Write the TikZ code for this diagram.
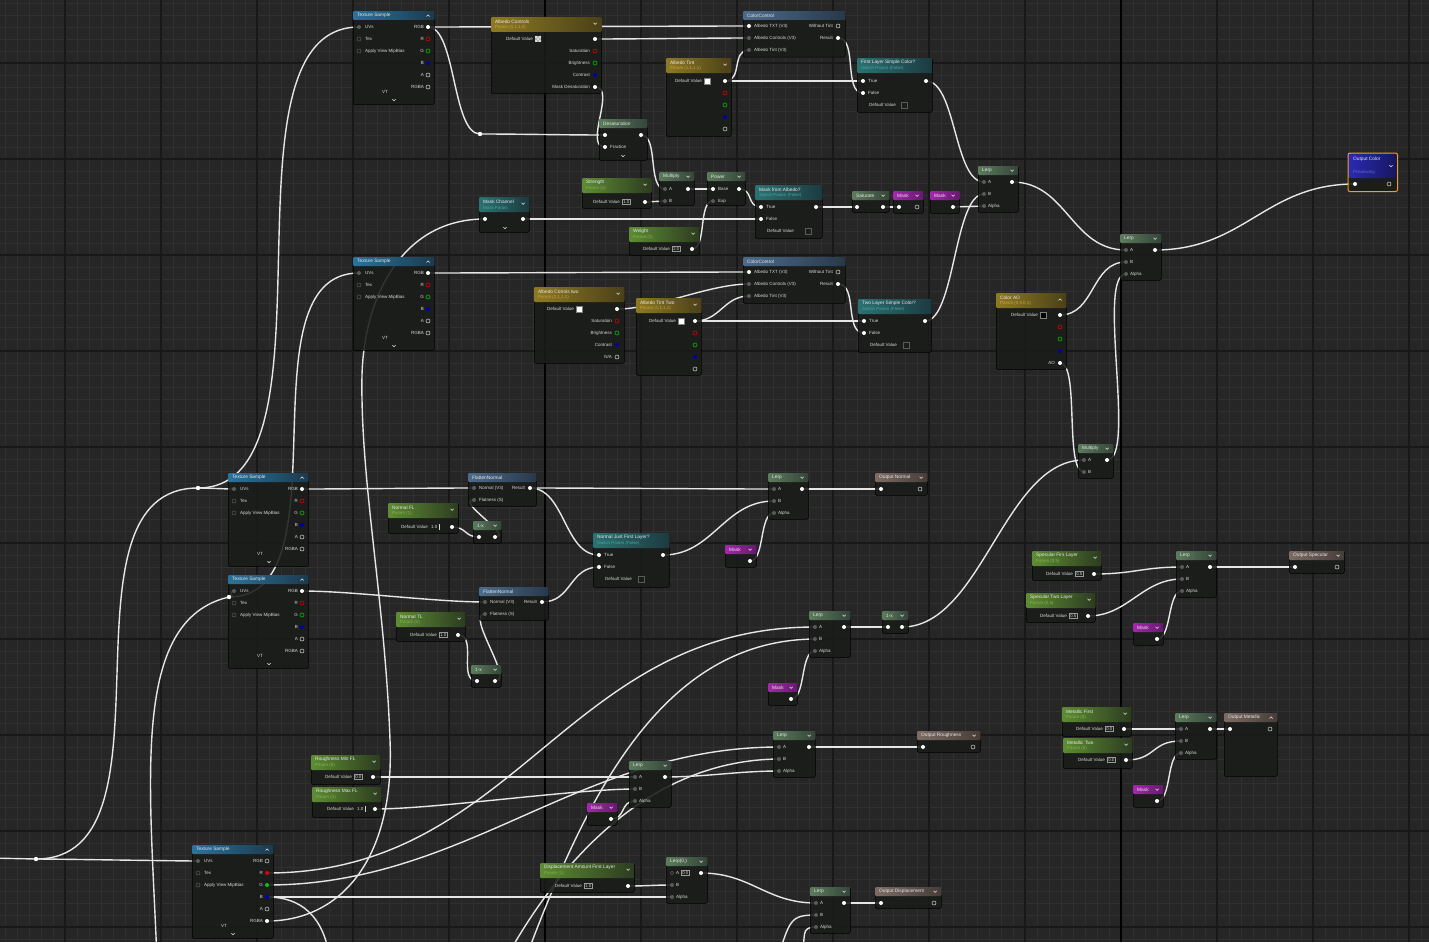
\documentclass[tikz,border=0pt]{standalone}
\usepackage{fontspec}
\setmainfont{Liberation Sans}
\usetikzlibrary{calc}
\pgfdeclarelayer{bg}\pgfdeclarelayer{wires}
\pgfsetlayers{bg,wires,main}
\definecolor{bgc}{HTML}{262626}
\definecolor{minorc}{HTML}{303030}
\definecolor{majorc}{HTML}{181818}
\definecolor{bodyc}{HTML}{1A1C1A}
\definecolor{wirec}{HTML}{E6E6E6}
\definecolor{labc}{HTML}{D8D8D8}
\definecolor{ttlc}{HTML}{E8E8E8}
\definecolor{pgc}{HTML}{5A5A5A}
\definecolor{svec}{HTML}{C8A83A}
\definecolor{ssc}{HTML}{86B848}
\definecolor{ssw}{HTML}{4AA8A0}
\definecolor{orangec}{HTML}{F0A020}
\definecolor{texL}{HTML}{2C729A}\definecolor{texR}{HTML}{1C3A4E}
\definecolor{vecL}{HTML}{8E7A24}\definecolor{vecR}{HTML}{4A4018}
\definecolor{scL}{HTML}{5E8C34}\definecolor{scR}{HTML}{2C3C20}
\definecolor{swL}{HTML}{2C7272}\definecolor{swR}{HTML}{1C3A40}
\definecolor{mthL}{HTML}{5C7C5C}\definecolor{mthR}{HTML}{34443A}
\definecolor{mkL}{HTML}{A626AE}\definecolor{mkR}{HTML}{641A6C}
\definecolor{outL}{HTML}{7C6C64}\definecolor{outR}{HTML}{463C38}
\definecolor{fnL}{HTML}{4C6C8C}\definecolor{fnR}{HTML}{28384A}
\definecolor{ocL}{HTML}{2A2AB4}\definecolor{ocR}{HTML}{16165C}
\tikzset{
 wire/.style={draw=wirec, line width=1.4pt},
 body/.style={fill=bodyc, fill opacity=0.88, draw=black, line width=0.5pt, rounded corners=1.2pt, inner sep=0pt, anchor=north west},
 ttl/.style={font=\fontsize{4.8}{5}\selectfont, text=ttlc, inner sep=0pt, anchor=west},
 sub/.style={font=\fontsize{4.4}{5}\selectfont, inner sep=0pt, anchor=west},
 lab/.style={font=\fontsize{4.5}{5}\selectfont, text=labc, inner sep=0pt},
 valb/.style={font=\fontsize{4.2}{5}\selectfont, text=labc, draw=gray!80, line width=0.4pt, inner xsep=1.2pt, inner ysep=0.9pt, anchor=west},
 chv/.style={draw=ttlc, line width=0.5pt},
 htex/.style={left color=texL, right color=texR},
 hvec/.style={left color=vecL, right color=vecR},
 hsc/.style={left color=scL, right color=scR},
 hsw/.style={left color=swL, right color=swR},
 hmth/.style={left color=mthL, right color=mthR},
 hmk/.style={left color=mkL, right color=mkR},
 hout/.style={left color=outL, right color=outR},
 hfn/.style={left color=fnL, right color=fnR},
 hoc/.style={left color=ocL, right color=ocR},
 pw/.style={fill=white},
 pg/.style={fill=pgc},
 po/.style={draw=white!85!black, line width=0.5pt},
 pr/.style={draw=red!85!black, line width=0.6pt},
 pgn/.style={draw=green!75!black, line width=0.6pt},
 pb/.style={fill=blue!65!black},
 prf/.style={fill=red!90!black},
 pgf/.style={fill=green!80!black},
 pgo/.style={draw=pgc, line width=0.5pt},
}
\newcommand\chvd[2]{\draw[chv] ([xshift=-8pt,yshift=-#2pt]#1.north east) -- ++(1.6,1.6) -- ++(1.6,-1.6);}
\newcommand\chvu[2]{\draw[chv] ([xshift=-8pt,yshift=-#2pt]#1.north east) ++(0,1.6) -- ++(1.6,-1.6) -- ++(1.6,1.6);}
\newcommand\nochv[2]{}
\newcommand\chvat[2]{\draw[chv] (#1-1.6,#2-0.8) -- ++(1.6,1.6) -- ++(1.6,-1.6);}
\newcommand\nA[8][\chvd]{%
 \node[body, minimum width=#5pt, minimum height=#6pt] (#2) at (#3,#4) {};
 \shade[h#7, rounded corners=1pt] (#2.north west) rectangle ([yshift=-9pt]#2.north east);
 \node[ttl] at ([xshift=4pt,yshift=-4.6pt]#2.north west) {#8};
 #1{#2}{3.8}}
\newcommand\nB[9][\chvd]{%
 \node[body, minimum width=#5pt, minimum height=#6pt] (#2) at (#3,#4) {};
 \shade[h#7, rounded corners=1pt] (#2.north west) rectangle ([yshift=-15pt]#2.north east);
 \node[ttl] at ([xshift=4pt,yshift=-4.4pt]#2.north west) {#8};
 \node[sub, text=s#7] at ([xshift=4pt,yshift=-10.8pt]#2.north west) {#9};
 #1{#2}{5.8}}
\newcommand\pin[4][pw]{\coordinate (#2) at (#3,#4); \path[#1] (#2) circle (2pt);}
\newcommand\lab[3]{\node[lab, anchor=west] at (#1,#2) {#3};}
\newcommand\rlab[3]{\node[lab, anchor=east] at (#1,#2) {#3};}
\newcommand\valbox[3]{\node[valb] at (#1,#2) {#3};}
\newcommand\swatch[3]{\fill[#3, draw=gray, line width=0.3pt] (#1,#2-3) rectangle (#1+6,#2+3);}
\newcommand\dvbox[2]{\draw[pgc, line width=0.4pt] (#1,#2-3) rectangle (#1+6,#2+3);}
\newcommand\checker[2]{\fill[gray!60] (#1,#2-3) rectangle (#1+6,#2+3);
 \fill[white!85!black] (#1,#2-3) rectangle (#1+2,#2-1) (#1+4,#2-3) rectangle (#1+6,#2-1) (#1+2,#2-1) rectangle (#1+4,#2+1) (#1,#2+1) rectangle (#1+2,#2+3) (#1+4,#2+1) rectangle (#1+6,#2+3);}
\newcommand\reroute[3]{\coordinate (#1) at (#2,#3); \fill[white] (#1) circle (2.2pt);}
% texture sample: name x y w variant
\newcommand\tex[5]{%
 \nA[\chvu]{#1}{#2}{#3}{#4}{93}{tex}{Texture Sample}
 \pin[pg]{#1-uv}{#2+6}{#3+16} \lab{#2+12}{#3+16}{UVs}
 \pin[pgo]{#1-tex}{#2+6}{#3+28} \lab{#2+12}{#3+28}{Tex}
 \pin[pgo]{#1-mip}{#2+6}{#3+40} \lab{#2+12}{#3+40}{Apply View MipBias}
 \rlab{#2+#4-10}{#3+16}{RGB} \rlab{#2+#4-10}{#3+28}{R} \rlab{#2+#4-10}{#3+40}{G}
 \rlab{#2+#4-10}{#3+52}{B} \rlab{#2+#4-10}{#3+64}{A} \rlab{#2+#4-10}{#3+76}{RGBA}
 \ifnum#5=1
 \pin{#1-rgb}{#2+#4-6}{#3+16} \pin[pr]{#1-r}{#2+#4-6}{#3+28} \pin[pgn]{#1-g}{#2+#4-6}{#3+40}
 \pin[pb]{#1-b}{#2+#4-6}{#3+52} \pin[po]{#1-a}{#2+#4-6}{#3+64} \pin[po]{#1-rgba}{#2+#4-6}{#3+76}
 \else
 \pin[po]{#1-rgb}{#2+#4-6}{#3+16} \pin[prf]{#1-r}{#2+#4-6}{#3+28} \pin[pgf]{#1-g}{#2+#4-6}{#3+40}
 \pin[pb]{#1-b}{#2+#4-6}{#3+52} \pin[po]{#1-a}{#2+#4-6}{#3+64} \pin{#1-rgba}{#2+#4-6}{#3+76}
 \fi
 \node[lab] at (#2+32,#3+81) {VT};
 \chvat{#2+41}{#3+89}}
\newcommand\lerp[5][Lerp]{%
 \nA{#2}{#3}{#4}{#5}{46}{mth}{#1}
 \pin[pg]{#2-a}{#3+6}{#4+16} \lab{#3+10}{#4+16}{A}
 \pin[pg]{#2-b}{#3+6}{#4+28} \lab{#3+10}{#4+28}{B}
 \pin[pg]{#2-al}{#3+6}{#4+40} \lab{#3+10}{#4+40}{Alpha}
 \pin{#2-out}{#3+#5-6}{#4+16}}
\newcommand\mask[4]{\nA{#1}{#2}{#3}{#4}{22}{mk}{Mask}}
\newcommand\omx[4]{\nA{#1}{#2}{#3}{#4}{22}{mth}{1-x}
 \pin{#1-in}{#2+6}{#3+16} \pin{#1-out}{#2+#4-6}{#3+16}}
\newcommand\outn[7][\chvd]{\nA[#1]{#2}{#3}{#4}{#5}{#6}{out}{#7}
 \pin{#2-in}{#3+6}{#4+16} \pin[po]{#2-o}{#3+#5-7}{#4+16}}
\begin{document}
\begin{tikzpicture}[x=1pt,y=-1pt]
\useasboundingbox (0,0) rectangle (1429,942);
\begin{pgfonlayer}{bg}
\fill[bgc] (0,0) rectangle (1429,942);
\foreach \i in {0,...,119} {\draw[minorc, line width=0.9pt] (5+12*\i,0) -- ++(0,942);}
\foreach \i in {0,...,78} {\draw[minorc, line width=0.9pt] (0,3+12*\i) -- ++(1429,0);}
\foreach \i in {0,...,14} {\draw[majorc, line width=1.3pt] (65+96*\i,0) -- ++(0,942);}
\foreach \i in {0,...,9} {\draw[majorc, line width=1.3pt] (0,63+96*\i) -- ++(1429,0);}
\draw[black, line width=1.8pt] (545,0) -- ++(0,942) (1121,0) -- ++(0,942);
\end{pgfonlayer}

% ---------------- top albedo ----------------
\tex{ts1}{353}{11}{81}{1}
\nB{ac}{491}{17}{110}{76}{vec}{Albedo Controls}{Param (1,1,1,0)}
\rlab{533}{39}{Default Value} \checker{535}{39} \pin{ac-out}{595}{39}
\rlab{590}{51}{Saturation} \pin[pr]{ac-sat}{595}{51}
\rlab{590}{63}{Brightness} \pin[pgn]{ac-bri}{595}{63}
\rlab{590}{75}{Contrast} \pin[pb]{ac-con}{595}{75}
\rlab{590}{87}{Mask Desaturation} \pin{ac-md}{595}{87}

\nA[\nochv]{desat}{599}{119}{48}{41}{mth}{Desaturation}
\pin{desat-in}{605}{135} \pin{desat-fr}{605}{147} \lab{610}{147}{Fraction} \pin{desat-out}{641}{135}
\chvat{623}{156}

\nA[\nochv]{cc1}{743}{11}{102}{46}{fn}{ColorControl}
\pin{cc1-txt}{749}{26} \lab{754}{26}{Albedo TXT (V3)}
\pin[pg]{cc1-ctl}{749}{38} \lab{754}{38}{Albedo Controls (V3)}
\pin[pg]{cc1-tint}{749}{50} \lab{754}{50}{Albedo Tint (V3)}
\rlab{833}{26}{Without Tint} \pin[po]{cc1-wt}{838}{26}
\rlab{833}{38}{Result} \pin{cc1-res}{838}{38}

\nB{at}{666}{58}{65}{78}{vec}{Albedo Tint}{Param (1,1,1,1)}
\rlab{702}{81}{Default Value} \swatch{704}{81}{white} \pin{at-out}{725}{81}
\pin[pr]{at-r}{725}{93} \pin[pgn]{at-g}{725}{105} \pin[pb]{at-b}{725}{117} \pin[po]{at-a}{725}{129}

\nB[\nochv]{fl}{857}{58}{75}{54}{sw}{First Layer Simple Color?}{Switch Param (False)}
\pin{fl-t}{863}{81} \lab{868}{81}{True} \pin{fl-f}{863}{93} \lab{868}{93}{False}
\lab{869}{105}{Default Value} \dvbox{901}{105} \pin{fl-out}{926}{81}

\nB{str}{582}{178}{69}{30}{sc}{Strength}{Param (1)}
\rlab{620}{202}{Default Value} \valbox{622}{202}{1.0} \pin{str-out}{645}{202}
\nA{mul1}{659}{172}{35}{33}{mth}{Multiply}
\pin[pg]{mul1-a}{665}{189} \lab{669}{189}{A} \pin[pg]{mul1-b}{665}{201} \lab{669}{201}{B} \pin{mul1-out}{688}{189}
\nA{pow}{707}{172}{38}{33}{mth}{Power}
\pin{pow-base}{713}{189} \lab{718}{189}{Base} \pin[pg]{pow-exp}{713}{201} \lab{718}{201}{Exp} \pin{pow-out}{739}{189}
\nB{mc}{479}{197}{50}{35}{sw}{Mask Channel}{Mask Param}
\pin{mc-in}{485}{219} \pin{mc-out}{523}{219} \chvat{505}{228}
\nB{wt}{629}{227}{70}{28}{sc}{Weight}{Param (2)}
\rlab{670}{249}{Default Value} \valbox{672}{249}{2.0} \pin{wt-out}{692}{249}
\nB[\nochv]{mfa}{755}{185}{67}{53}{sw}{Mask from Albedo?}{Switch Param (False)}
\pin{mfa-t}{761}{207} \lab{766}{207}{True} \pin{mfa-f}{761}{219} \lab{766}{219}{False}
\lab{767}{231}{Default Value} \dvbox{805}{231} \pin{mfa-out}{816}{207}
\nA{sat}{852}{191}{37}{21}{mth}{Saturate}
\pin{sat-in}{857}{207} \pin{sat-out}{883}{207}
\mask{mk1}{893}{191}{30} \pin{mk1-in}{899}{207} \pin[po]{mk1-out}{917}{207}
\mask{mk2}{930}{191}{29} \pin{mk2-out}{953}{207}
\lerp{lerp1}{978}{166}{40}

% ---------------- second albedo ----------------
\tex{ts2}{353}{257}{81}{1}
\nA[\nochv]{cc2}{743}{257}{102}{46}{fn}{ColorControl}
\pin{cc2-txt}{749}{272} \lab{754}{272}{Albedo TXT (V3)}
\pin[pg]{cc2-ctl}{749}{284} \lab{754}{284}{Albedo Controls (V3)}
\pin[pg]{cc2-tint}{749}{296} \lab{754}{296}{Albedo Tint (V3)}
\rlab{833}{272}{Without Tint} \pin[po]{cc2-wt}{838}{272}
\rlab{833}{284}{Result} \pin{cc2-res}{838}{284}
\nB{act}{534}{287}{90}{76}{vec}{Albedo Cotrols two}{Param (1,1,1,1)}
\rlab{574}{309}{Default Value} \swatch{576}{309}{white} \pin{act-out}{617}{309}
\rlab{612}{321}{Saturation} \pin[pr]{act-sat}{617}{321}
\rlab{612}{333}{Brightness} \pin[pgn]{act-bri}{617}{333}
\rlab{612}{345}{Contrast} \pin[pb]{act-con}{617}{345}
\rlab{612}{357}{N/A} \pin[po]{act-na}{617}{357}
\nB{att}{636}{298}{65}{77}{vec}{Albedo Tint Two}{Param (1,1,1,1)}
\rlab{676}{321}{Default Value} \swatch{678}{321}{white} \pin{att-out}{695}{321}
\pin[pr]{att-r}{695}{333} \pin[pgn]{att-g}{695}{345} \pin[pb]{att-b}{695}{357} \pin[po]{att-a}{695}{369}
\nB[\nochv]{tl}{858}{299}{73}{53}{sw}{Two Layer Simple Color?}{Switch Param (False)}
\pin{tl-t}{864}{321} \lab{869}{321}{True} \pin{tl-f}{864}{333} \lab{869}{333}{False}
\lab{870}{345}{Default Value} \dvbox{903}{345} \pin{tl-out}{925}{321}
\nB[\chvu]{cao}{996}{293}{70}{76}{vec}{Color AO}{Param (0,0,0,1)}
\rlab{1038}{315}{Default Value} \swatch{1040}{315}{black} \pin{cao-out}{1060}{315}
\pin[pr]{cao-r}{1060}{327} \pin[pgn]{cao-g}{1060}{339} \pin[pb]{cao-b}{1060}{351}
\rlab{1055}{363}{AO} \pin{cao-ao}{1060}{363}
\lerp{lerp2}{1120}{234}{41}
\nA{mul2}{1078}{444}{35}{34}{mth}{Multiply}
\pin[pg]{mul2-a}{1084}{460} \lab{1088}{460}{A} \pin[pg]{mul2-b}{1084}{472} \lab{1088}{472}{B} \pin{mul2-out}{1107}{460}

% output color
\node[body, minimum width=49pt, minimum height=38pt] (oc) at (1348,153) {};
\shade[hoc, rounded corners=2pt] (oc.north west) rectangle ([yshift=-25pt]oc.north east);
\draw[orangec, line width=1pt, rounded corners=2pt] (oc.north west) rectangle (oc.south east);
\node[ttl] at (1353,159) {Output Color};
\node[sub, text=blue!45!white!75!black] at (1353,172) {Previewing};
\chvat{1391}{166}
\pin{oc-in}{1355}{184} \pin[po]{oc-o}{1389}{184}

% ---------------- normals ----------------
\tex{ts3}{228}{473}{80}{1}
\tex{ts4}{228}{575}{80}{1}
\nA[\nochv]{fn1}{468}{473}{68}{33}{fn}{FlattenNormal}
\pin[pg]{fn1-n}{474}{488} \lab{479}{488}{Normal (V3)} \rlab{525}{488}{Result} \pin{fn1-out}{530}{488}
\pin[pg]{fn1-fl}{474}{500} \lab{479}{500}{Flatness (S)}
\nA[\nochv]{fn2}{479}{587}{69}{33}{fn}{FlattenNormal}
\pin[pg]{fn2-n}{485}{602} \lab{490}{602}{Normal (V3)} \rlab{537}{602}{Result} \pin{fn2-out}{542}{602}
\pin[pg]{fn2-fl}{485}{614} \lab{490}{614}{Flatness (S)}
\nB{nfl}{388}{503}{70}{30}{sc}{Normal FL}{Param (1)}
\rlab{428}{527}{Default Value} \lab{431}{527}{1.0} \draw[labc, line width=0.3pt] (439,524) -- (439,530); \pin{nfl-out}{452}{527}
\omx{omx1}{473}{521}{28}
\nB{ntl}{396}{612}{69}{29}{sc}{Normal TL}{Param (1)}
\rlab{437}{635}{Default Value} \valbox{439}{635}{1.0} \pin{ntl-out}{458}{635}
\omx{omx2}{471}{665}{30}
\nB[\nochv]{nj}{593}{533}{76}{54}{sw}{Normal Just First Layer?}{Switch Param (False)}
\pin{nj-t}{599}{555} \lab{604}{555}{True} \pin{nj-f}{599}{567} \lab{604}{567}{False}
\lab{605}{579}{Default Value} \dvbox{638}{579} \pin{nj-out}{663}{555}
\lerp{lerp3}{768}{473}{40}
\outn{on}{875}{473}{52}{22}{Output Normal}
\mask{mk3}{725}{545}{31} \pin{mk3-out}{750}{561}

% ---------------- AO / specular / metallic ----------------
\lerp{lerp4}{809}{611}{41}
\omx{omx3}{882}{611}{26}
\mask{mk4}{768}{683}{29} \pin{mk4-out}{791}{699}
\nB{sf}{1032}{551}{69}{29}{sc}{Specular Firs Layer}{Param (0.5)}
\rlab{1073}{574}{Default Value} \valbox{1075}{574}{0.5} \pin{sf-out}{1094}{574}
\nB{st}{1026}{593}{69}{29}{sc}{Specular Two Layer}{Param (0.5)}
\rlab{1067}{616}{Default Value} \valbox{1069}{616}{0.5} \pin{st-out}{1088}{616}
\lerp{lerp5}{1176}{551}{40}
\outn{os}{1289}{551}{55}{22}{Output Specular}
\mask{mk5}{1133}{623}{30} \pin{mk5-out}{1157}{639}
\nB{mf}{1062}{707}{69}{29}{sc}{Metallic First}{Param (0)}
\rlab{1103}{729}{Default Value} \valbox{1105}{729}{0.0} \pin{mf-out}{1124}{729}
\nB{mt}{1063}{738}{69}{30}{sc}{Metallic Two}{Param (0)}
\rlab{1105}{760}{Default Value} \valbox{1107}{760}{0.0} \pin{mt-out}{1126}{760}
\lerp{lerp6}{1175}{713}{41}
\outn[\chvu]{om}{1224}{713}{53}{63}{Output Metallic}
\mask{mk6}{1133}{785}{30} \pin{mk6-out}{1157}{801}

% ---------------- roughness / displacement ----------------
\lerp{lerp7}{773}{731}{42}
\outn{or}{917}{731}{63}{21}{Output Roughness}
\lerp{lerp8}{629}{761}{42}
\mask{mk7}{587}{803}{30} \pin{mk7-out}{611}{819}
\nB{rmin}{311}{755}{69}{29}{sc}{Roughness Min FL}{Param (0)}
\rlab{352}{777}{Default Value} \valbox{354}{777}{0.0} \pin{rmin-out}{373}{777}
\nB{rmax}{312}{787}{69}{30}{sc}{Roughness Max FL}{Param (1)}
\rlab{354}{809}{Default Value} \lab{357}{809}{1.0} \draw[labc, line width=0.3pt] (365,806) -- (365,812); \pin{rmax-out}{375}{809}
\tex{ts5}{192}{845}{81}{2}
\nB{daf}{540}{863}{94}{29}{sc}{Displacement Amount First Layer}{Param (1)}
\rlab{582}{886}{Default Value} \valbox{584}{886}{1.0} \pin{daf-out}{628}{886}
\lerp[Lerp(0,)]{lerp0}{666}{857}{41}
\fill[bodyc] (lerp0-a) circle (2.2pt); \path[pgo] (lerp0-a) circle (1.8pt); \valbox{681}{873}{0.0}
\lerp{lerp9}{810}{887}{40}
\outn{od}{875}{887}{66}{21}{Output Displacement}

% reroutes and off-screen ends
\reroute{rr0}{36}{859}
\reroute{rr1}{198}{488}
\reroute{rr2}{229}{597}
\reroute{rr3}{480}{134}
\coordinate (offL) at (-10,858);
\coordinate (offA) at (157,960);
\coordinate (offM) at (330,960);
\coordinate (offB1) at (505,960);
\coordinate (offB2) at (525,960);
\coordinate (offD1) at (777,960);
\coordinate (offD2) at (802,960);

\begin{pgfonlayer}{wires}
\newcommand\wire[3][28]{\draw[wire] (#2) .. controls +(#1,0) and +(-#1,0) .. (#3);}
\wire[60]{ts1-rgb}{cc1-txt}
\wire[28]{ts1-rgb}{rr3}
\wire[40]{rr3}{desat-in}
\wire[40]{ac-out}{cc1-ctl}
\wire[22]{ac-md}{desat-fr}
\wire[18]{at-out}{cc1-tint}
\wire[40]{at-out}{fl-t}
\wire[20]{cc1-res}{fl-f}
\wire[30]{fl-out}{lerp1-a}
\wire[18]{desat-out}{mul1-a}
\wire[10]{str-out}{mul1-b}
\wire[10]{mul1-out}{pow-base}
\wire[15]{wt-out}{pow-exp}
\wire[15]{pow-out}{mfa-t}
\wire[60]{mc-out}{mfa-f}
\wire[20]{mfa-out}{sat-in}
\wire[8]{sat-out}{mk1-in}
\wire[15]{mk2-out}{lerp1-al}
\wire[30]{tl-out}{lerp1-b}
\wire[55]{lerp1-out}{lerp2-a}
\wire[35]{cao-out}{lerp2-b}
\wire[30]{mul2-out}{lerp2-al}
\wire[90]{lerp2-out}{oc-in}
\wire[20]{cao-ao}{mul2-b}
\wire[80]{omx3-out}{mul2-a}
\wire[60]{ts2-rgb}{cc2-txt}
\wire[40]{act-out}{cc2-ctl}
\wire[25]{att-out}{cc2-tint}
\wire[40]{att-out}{tl-t}
\wire[20]{cc2-res}{tl-f}
\wire[50]{ts3-rgb}{fn1-n}
\wire[50]{ts4-rgb}{fn2-n}
\wire[15]{nfl-out}{omx1-in}
\wire[20]{omx1-out}{fn1-fl}
\wire[60]{fn1-out}{lerp3-a}
\wire[35]{fn1-out}{nj-t}
\wire[30]{fn2-out}{nj-f}
\wire[20]{ntl-out}{omx2-in}
\wire[20]{omx2-out}{fn2-fl}
\wire[50]{nj-out}{lerp3-b}
\wire[15]{mk3-out}{lerp3-al}
\wire[30]{lerp3-out}{on-in}
\wire[20]{lerp4-out}{omx3-in}
\wire[15]{mk4-out}{lerp4-al}
\wire[40]{sf-out}{lerp5-a}
\wire[40]{st-out}{lerp5-b}
\wire[15]{mk5-out}{lerp5-al}
\wire[30]{lerp5-out}{os-in}
\wire[30]{mf-out}{lerp6-a}
\wire[30]{mt-out}{lerp6-b}
\wire[15]{mk6-out}{lerp6-al}
\wire[10]{lerp6-out}{om-in}
\wire[40]{lerp7-out}{or-in}
\wire[60]{rmin-out}{lerp8-a}
\wire[60]{rmax-out}{lerp8-b}
\wire[15]{mk7-out}{lerp8-al}
\wire[40]{lerp8-out}{lerp7-al}
\wire[250]{ts5-r}{lerp4-a}
\wire[200]{ts5-g}{lerp7-a}
\wire[150]{ts5-b}{lerp0-al}
\wire[20]{daf-out}{lerp0-b}
\wire[50]{lerp0-out}{lerp9-a}
\wire[30]{lerp9-out}{od-in}
\draw[wire] (offD1) .. controls (790,920) and (790,915) .. (lerp9-b);
\draw[wire] (offD2) .. controls (806,935) and (800,927) .. (lerp9-al);
\draw[wire] (offB1) .. controls (560,860) and (650,760) .. (lerp7-b);
\draw[wire] (offB2) .. controls (585,800) and (660,640) .. (lerp4-b);
% left side
\draw[wire] (offL) -- (rr0);
\wire[20]{rr0}{ts5-uv}
\wire[150]{rr0}{rr1}
\wire[10]{rr1}{ts3-uv}
\wire[150]{rr1}{ts1-uv}
\wire[8]{rr2}{ts4-uv}
\wire[120]{rr2}{ts2-uv}
\draw[wire] (offA) .. controls (150,780) and (130,620) .. (rr2);
\draw[wire] (ts5-b) .. controls (300,897) and (324,915) .. (offM);
\draw[wire] (ts5-rgba) .. controls (340,921) and (395,860) .. (390,740) .. controls (385,600) and (360,480) .. (362,375) .. controls (364,300) and (400,219) .. (mc-in);
\end{pgfonlayer}
\end{tikzpicture}
\end{document}
